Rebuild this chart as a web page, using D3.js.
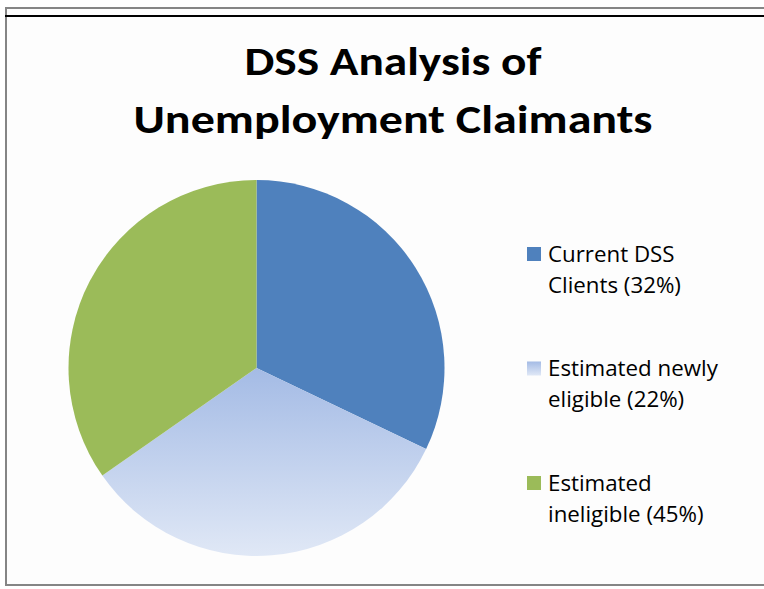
<!DOCTYPE html>
<html>
<head>
<meta charset="utf-8">
<script src="https://d3js.org/d3.v7.min.js"></script>
<style>
    body { margin: 0; background: #ffffff; }
    svg { display: block; }
    text { font-family: Calibri, Carlito, "Open Sans", sans-serif; fill: #000; }
    .legend text { font-family: "Open Sans", sans-serif; }
</style>
</head>
<body>
<svg width="764" height="589"></svg>
<script>

// the data: share of each group as drawn in the pie, plus the legend text
var categories = ["Current DSS Clients", "Estimated newly eligible", "Estimated ineligible"];
var shares = [32.1, 33.2, 34.7];
var legendLines = [
    ["Current DSS", "Clients (32%)"],
    ["Estimated newly", "eligible (22%)"],
    ["Estimated", "ineligible (45%)"]
];
var titleLines = ["DSS Analysis of", "Unemployment Claimants"];

var svg = d3.select("svg"),
    width = +svg.attr("width"),
    height = +svg.attr("height");

// gradient for the light blue slice (and its legend key)
var defs = svg.append("defs");
var grad = defs.append("linearGradient")
    .attr("id", "lightBlue")
    .attr("x1", 0).attr("y1", 0)
    .attr("x2", 0).attr("y2", 1);
grad.append("stop").attr("offset", "0%").attr("stop-color", "#a4bbe5");
grad.append("stop").attr("offset", "100%").attr("stop-color", "#e0e8f6");

var color = d3.scaleOrdinal()
    .domain(categories)
    .range(["#4f81bd", "url(#lightBlue)", "#9bbb59"]);

// chart frame: gray border with a black line on top
svg.append("rect")
    .attr("x", 6)
    .attr("y", 8)
    .attr("width", width + 10)
    .attr("height", 577)
    .attr("fill", "#fdfdfd")
    .attr("stroke", "#858585")
    .attr("stroke-width", 2);

svg.append("line")
    .attr("x1", 5)
    .attr("x2", width)
    .attr("y1", 16)
    .attr("y2", 16)
    .attr("stroke", "#000")
    .attr("stroke-width", 2);

// title, each line stretched to the width seen in the picture
var titleWidths = [297, 519];
svg.selectAll(".title")
    .data(titleLines)
    .enter().append("text")
    .attr("class", "title")
    .attr("x", 393)
    .attr("y", function (d, i) { return 75 + i * 58; })
    .attr("text-anchor", "middle")
    .attr("font-size", 41)
    .attr("font-weight", "bold")
    .attr("textLength", function (d, i) { return titleWidths[i]; })
    .attr("lengthAdjust", "spacingAndGlyphs")
    .text(function (d) { return d; });

// the pie itself
var radius = 188;
var pie = d3.pie().sort(null).value(function (d) { return d; });
var arc = d3.arc().innerRadius(0).outerRadius(radius);

var g = svg.append("g")
    .attr("transform", "translate(256.5,368)");

g.selectAll(".slice")
    .data(pie(shares))
    .enter().append("path")
    .attr("class", "slice")
    .attr("d", arc)
    .attr("fill", function (d, i) { return color(categories[i]); });

// legend on the right
var legend = svg.selectAll(".legend")
    .data(categories)
    .enter().append("g")
    .attr("class", "legend")
    .attr("transform", function (d, i) { return "translate(527," + (247 + i * 114.5) + ")"; });

legend.append("rect")
    .attr("width", 14)
    .attr("height", 14)
    .attr("fill", function (d) { return color(d); });

legend.each(function (d, i) {
    d3.select(this).selectAll("text")
        .data(legendLines[i])
        .enter().append("text")
        .attr("x", 21)
        .attr("y", function (t, j) { return 14.5 + j * 31; })
        .attr("font-size", 22.3)
        .attr("fill", "#111")
        .text(function (t) { return t; });
});

</script>
</body>
</html>
